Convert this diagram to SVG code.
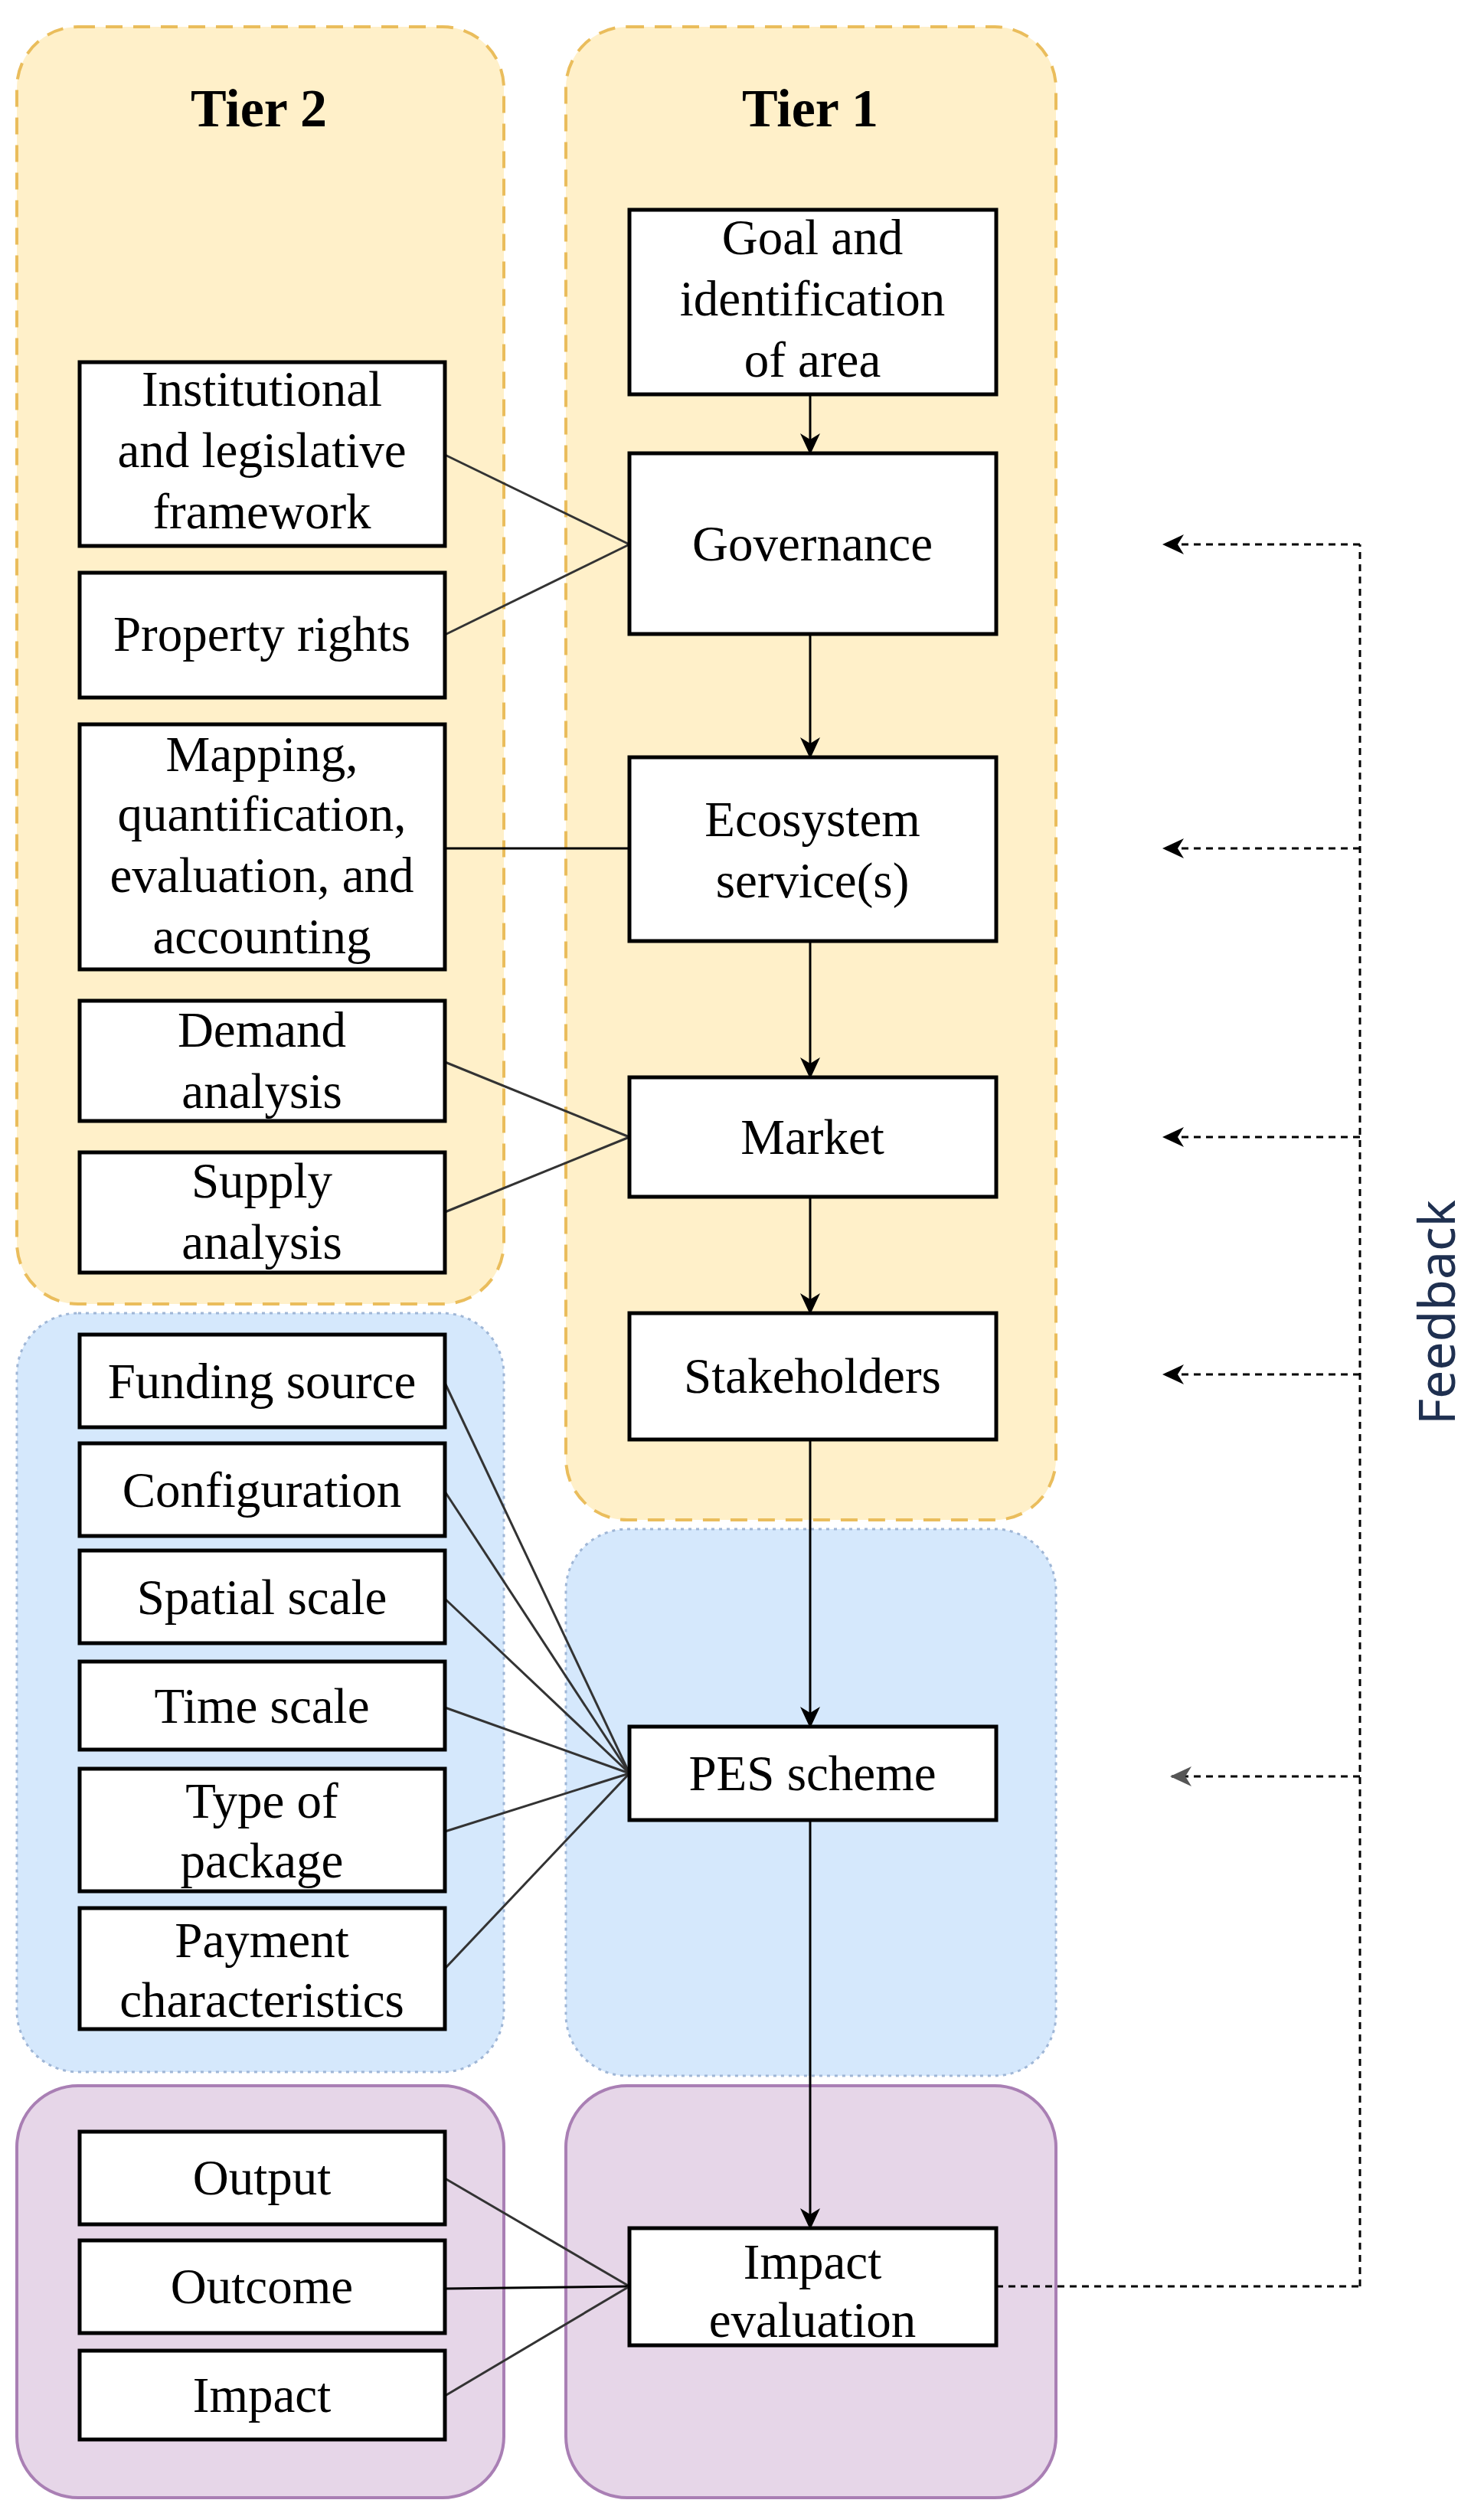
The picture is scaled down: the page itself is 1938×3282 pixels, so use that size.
<svg xmlns="http://www.w3.org/2000/svg" width="1938" height="3282" viewBox="0 0 1938 3282">
<style>
.t{font-family:"Liberation Serif",serif;font-size:65px;fill:#000;text-anchor:middle}
.h{font-family:"Liberation Serif",serif;font-size:70px;font-weight:bold;text-anchor:middle}
.b{fill:#fff;stroke:#000;stroke-width:5}
.or{fill:#fff0c9;stroke:#eabd5c;stroke-width:4;stroke-dasharray:22 14}
.bl{fill:#d5e8fc;stroke:#9fb6d6;stroke-width:3;stroke-dasharray:4 6}
.pu{fill:#e6d6e8;stroke:#a97fb4;stroke-width:4}
.c{stroke:#000;stroke-width:3;fill:none}
.d{stroke:#000;stroke-width:3;fill:none;stroke-dasharray:9 7}
</style>
<defs>
<marker id="ab" markerWidth="30" markerHeight="30" refX="26" refY="15" orient="auto" markerUnits="userSpaceOnUse" viewBox="0 0 30 30"><path d="M0,2 L28,15 L0,28 L8,15 Z" fill="#000"/></marker>
<marker id="ag" markerWidth="30" markerHeight="30" refX="26" refY="15" orient="auto" markerUnits="userSpaceOnUse" viewBox="0 0 30 30"><path d="M0,2 L28,15 L0,28 L8,15 Z" fill="#555"/></marker>
</defs>
<g id="panels">
<rect class="or" x="22" y="35" width="636" height="1668" rx="80"/>
<rect class="or" x="739" y="35" width="640" height="1950" rx="80"/>
<rect class="bl" x="22" y="1715" width="636" height="991" rx="80"/>
<rect class="bl" x="739" y="1997" width="640" height="714" rx="80"/>
<rect class="pu" x="22" y="2724" width="636" height="538" rx="80"/>
<rect class="pu" x="739" y="2724" width="640" height="538" rx="80"/>
<text class="h" x="338" y="165">Tier 2</text>
<text class="h" x="1058" y="165">Tier 1</text>
</g>
<g id="connectors">
<line class="c" x1="1058" y1="515" x2="1058" y2="592" marker-end="url(#ab)"/>
<line class="c" x1="1058" y1="828" x2="1058" y2="989" marker-end="url(#ab)"/>
<line class="c" x1="1058" y1="1229" x2="1058" y2="1407" marker-end="url(#ab)"/>
<line class="c" x1="1058" y1="1563" x2="1058" y2="1715" marker-end="url(#ab)"/>
<line class="c" x1="1058" y1="1880" x2="1058" y2="2255" marker-end="url(#ab)"/>
<line class="c" x1="1058" y1="2377" x2="1058" y2="2910" marker-end="url(#ab)"/>
<g stroke="#333" stroke-width="3">
<line x1="581" y1="594" x2="822" y2="711"/>
<line x1="581" y1="829" x2="822" y2="711"/>
<line x1="581" y1="1108" x2="822" y2="1108" stroke="#000"/>
<line x1="581" y1="1387" x2="822" y2="1485"/>
<line x1="581" y1="1583" x2="822" y2="1485"/>
<line x1="581" y1="1806" x2="822" y2="2316"/>
<line x1="581" y1="1948" x2="822" y2="2316"/>
<line x1="581" y1="2088" x2="822" y2="2316"/>
<line x1="581" y1="2230" x2="822" y2="2316"/>
<line x1="581" y1="2392" x2="822" y2="2316"/>
<line x1="581" y1="2571" x2="822" y2="2316"/>
<line x1="581" y1="2845" x2="822" y2="2986"/>
<line x1="581" y1="2989" x2="822" y2="2986" stroke="#000"/>
<line x1="581" y1="3129" x2="822" y2="2986"/>
</g>
<polyline class="d" points="1301,2986 1776,2986" stroke-width="6"/>
<polyline class="d" points="1776,2986 1776,711"/>
<line class="d" x1="1776" y1="711" x2="1520" y2="711" marker-end="url(#ab)"/>
<line class="d" x1="1776" y1="1108" x2="1520" y2="1108" marker-end="url(#ab)"/>
<line class="d" x1="1776" y1="1485" x2="1520" y2="1485" marker-end="url(#ab)"/>
<line class="d" x1="1776" y1="1795" x2="1520" y2="1795" marker-end="url(#ab)"/>
<line class="d" x1="1776" y1="2320" x2="1530" y2="2320" stroke="#666" marker-end="url(#ag)"/>
</g>
<g id="goal"><rect class="b" x="822" y="274" width="479" height="241"/><text class="t" x="1061" y="332">Goal and</text><text class="t" x="1061" y="412">identification</text><text class="t" x="1061" y="492">of area</text></g>
<g id="governance"><rect class="b" x="822" y="592" width="479" height="236"/><text class="t" x="1061" y="732">Governance</text></g>
<g id="ecosystem"><rect class="b" x="822" y="989" width="479" height="240"/><text class="t" x="1061" y="1092">Ecosystem</text><text class="t" x="1061" y="1172">service(s)</text></g>
<g id="market"><rect class="b" x="822" y="1407" width="479" height="156"/><text class="t" x="1061" y="1507">Market</text></g>
<g id="stakeholders"><rect class="b" x="822" y="1715" width="479" height="165"/><text class="t" x="1061" y="1819">Stakeholders</text></g>
<g id="pes"><rect class="b" x="822" y="2255" width="479" height="122"/><text class="t" x="1061" y="2338">PES scheme</text></g>
<g id="impact-eval"><rect class="b" x="822" y="2910" width="479" height="153"/><text class="t" x="1061" y="2976">Impact</text><text class="t" x="1061" y="3052">evaluation</text></g>
<g id="institutional"><rect class="b" x="104" y="473" width="477" height="240"/><text class="t" x="342" y="530">Institutional</text><text class="t" x="342" y="610">and legislative</text><text class="t" x="342" y="690">framework</text></g>
<g id="property"><rect class="b" x="104" y="748" width="477" height="163"/><text class="t" x="342" y="850">Property rights</text></g>
<g id="mapping"><rect class="b" x="104" y="946" width="477" height="320"/><text class="t" x="342" y="1007">Mapping,</text><text class="t" x="342" y="1085">quantification,</text><text class="t" x="342" y="1165">evaluation, and</text><text class="t" x="342" y="1245">accounting</text></g>
<g id="demand"><rect class="b" x="104" y="1307" width="477" height="157"/><text class="t" x="342" y="1367">Demand</text><text class="t" x="342" y="1447">analysis</text></g>
<g id="supply"><rect class="b" x="104" y="1505" width="477" height="157"/><text class="t" x="342" y="1564">Supply</text><text class="t" x="342" y="1644">analysis</text></g>
<g id="funding"><rect class="b" x="104" y="1743" width="477" height="121"/><text class="t" x="342" y="1826">Funding source</text></g>
<g id="configuration"><rect class="b" x="104" y="1885" width="477" height="121"/><text class="t" x="342" y="1968">Configuration</text></g>
<g id="spatial"><rect class="b" x="104" y="2025" width="477" height="121"/><text class="t" x="342" y="2108">Spatial scale</text></g>
<g id="time"><rect class="b" x="104" y="2170" width="477" height="115"/><text class="t" x="342" y="2250">Time scale</text></g>
<g id="type"><rect class="b" x="104" y="2310" width="477" height="160"/><text class="t" x="342" y="2374">Type of</text><text class="t" x="342" y="2452">package</text></g>
<g id="payment"><rect class="b" x="104" y="2492" width="477" height="158"/><text class="t" x="342" y="2556">Payment</text><text class="t" x="342" y="2634">characteristics</text></g>
<g id="output"><rect class="b" x="104" y="2784" width="477" height="121"/><text class="t" x="342" y="2866">Output</text></g>
<g id="outcome"><rect class="b" x="104" y="2926" width="477" height="121"/><text class="t" x="342" y="3008">Outcome</text></g>
<g id="impact"><rect class="b" x="104" y="3070" width="477" height="116"/><text class="t" x="342" y="3150">Impact</text></g>
<text x="1900" y="1714" transform="rotate(-90 1900 1714)" font-family="'Noto Sans',sans-serif" font-size="66" fill="#1f3050" text-anchor="middle">Feedback</text>
</svg>
